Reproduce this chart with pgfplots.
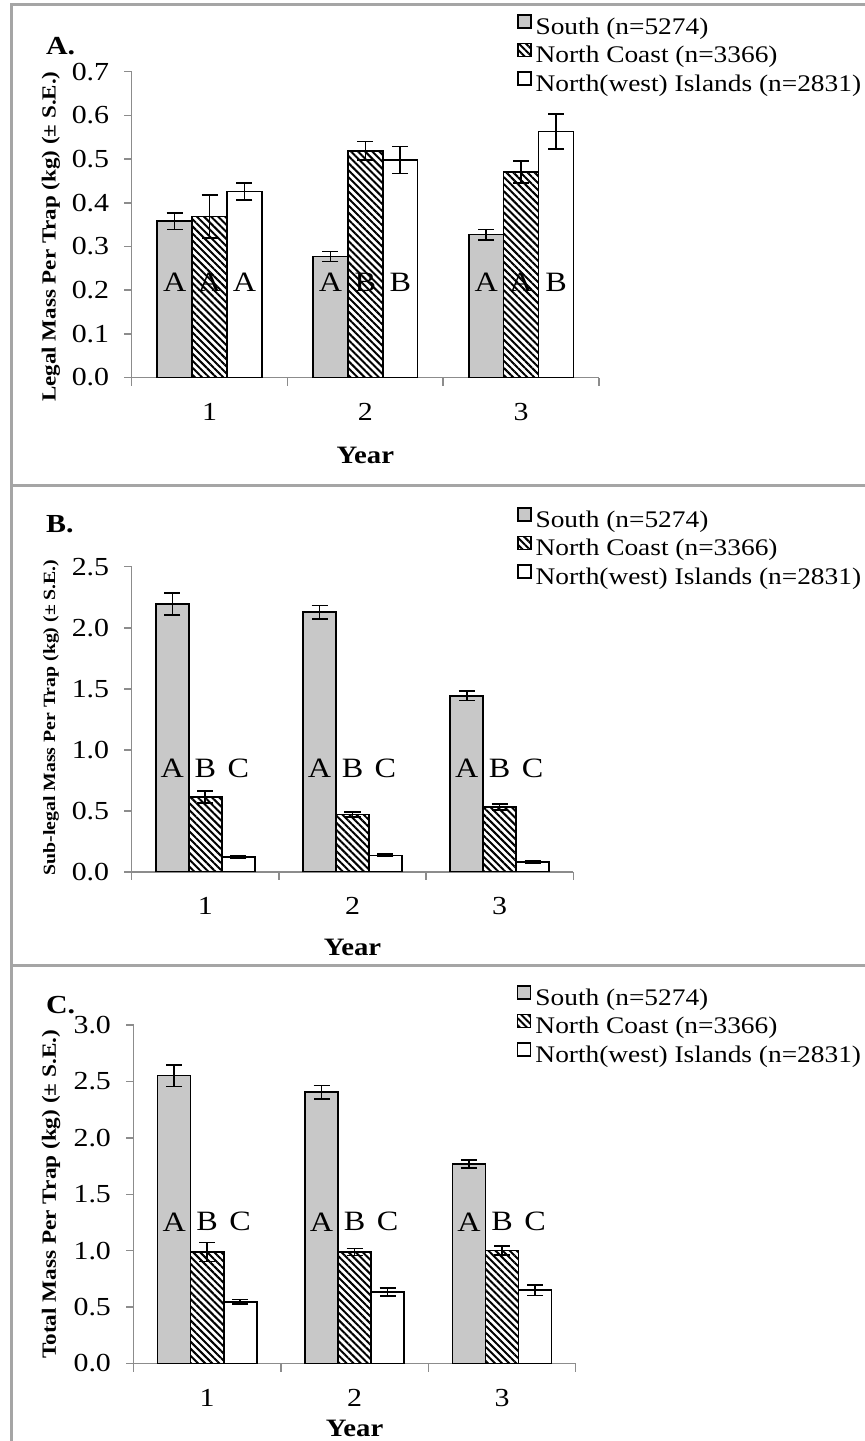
\documentclass[border=0pt]{standalone}
\usepackage{pgfplots}
\pgfplotsset{compat=1.18}
\usetikzlibrary{patterns.meta}
\usepackage{fontspec}
\setmainfont{Liberation Serif}[FakeStretch=1.15]

\definecolor{southfill}{RGB}{200,200,200}
\definecolor{axisgray}{RGB}{140,140,140}
\definecolor{framegray}{RGB}{165,165,165}

\pgfplotsset{
  panel/.style={
    scale only axis,
    axis lines=left,
    axis line style={-, draw=axisgray, line width=0.75pt},
    every tick/.style={draw=axisgray, line width=0.75pt},
    tick align=outside,
    major tick length=3.75pt,
    minor tick length=4pt,
    ybar, bar width=0.224,
    xmin=0.5, xmax=3.5, ymin=0,
    xtick={1,2,3}, minor xtick={0.5,1.5,2.5,3.5},
    major x tick style={draw=none},
    /pgf/number format/assume math mode=true,
    ticklabel style={font=\fontsize{13}{15}\selectfont},
    yticklabel style={xshift=-4pt,
      /pgf/number format/.cd, fixed, fixed zerofill, precision=1},
    xticklabel style={yshift=-5.5pt},
    xlabel=Year,
    xlabel style={anchor=center, font=\fontsize{12.5}{14}\selectfont\bfseries},
    ylabel style={anchor=center},
    legend style={draw=none, fill=none, anchor=north west, inner sep=0pt,
      column sep=2pt, row sep=0pt,
      nodes={inner sep=0pt, text height=9.25pt, text depth=4.25pt},
      font=\fontsize{11.9}{14}\selectfont},
    legend cell align=left,
    error bars/y dir=both, error bars/y explicit,
    error bars/error bar style={black, line width=0.8pt, solid},
    error bars/error mark options={black, rotate=90, mark size=4pt, line width=0.8pt},
  },
  sq legend/.style={legend image code/.code={
    \draw[##1, line width=0.6pt] (0pt,0.7pt) rectangle (6.5pt,7.2pt);}},
  south/.style={draw=black, fill=southfill, line width=0.8pt, bar shift=-0.224, sq legend},
  coast/.style={draw=black, line width=0.8pt, bar shift=0,
    pattern={Lines[angle=-45,distance=2.5pt,line width=1pt]}, pattern color=black, sq legend},
  isles/.style={draw=black, fill=white, line width=0.8pt, bar shift=0.224, sq legend},
}

\newcommand{\lt}{\fontsize{14}{16}\selectfont}

\begin{document}
\begin{tikzpicture}
\path[use as bounding box] (0,0) rectangle (432.5pt,-720.5pt);

% frame
\draw[framegray, line width=1.5pt] (432.5pt,-2pt) -- (5.85pt,-2pt) -- (5.85pt,-720.5pt);
\draw[framegray, line width=1.5pt] (5.85pt,-242.5pt) -- (432.5pt,-242.5pt);
\draw[framegray, line width=1.5pt] (5.85pt,-482.5pt) -- (432.5pt,-482.5pt);

\node[anchor=west, font=\fontsize{13}{15}\selectfont\bfseries] at (19.5pt,-23pt) {A.};
\node[anchor=west, font=\fontsize{13}{15}\selectfont\bfseries] at (19.5pt,-262pt) {B.};
\node[anchor=west, font=\fontsize{13}{15}\selectfont\bfseries] at (19.5pt,-502.5pt) {C.};

% ---------- A: legal mass
\begin{axis}[panel,
  at={(65.85pt,-188.75pt)}, anchor=south west,
  width=233.65pt, height=152.9pt,
  ymax=0.7, ytick={0,0.1,...,0.7},
  xlabel style={at={(axis description cs:0.5,-0.2534)}},
  ylabel={Legal Mass Per Trap (kg) (± S.E.)},
  ylabel style={at={(axis description cs:-0.1727,0.461)}, font=\fontsize{10}{12}\selectfont\bfseries},
  legend style={at={(axis description cs:0.8245,1.1887)}},
]
\addplot[south] coordinates {(1,0.358) +- (0,0.019) (2,0.277) +- (0,0.011) (3,0.327) +- (0,0.012)};
\addplot[coast] coordinates {(1,0.369) +- (0,0.049) (2,0.519) +- (0,0.021) (3,0.470) +- (0,0.025)};
\addplot[isles] coordinates {(1,0.426) +- (0,0.019) (2,0.498) +- (0,0.031) (3,0.563) +- (0,0.040)};
\legend{South (n=5274), North Coast (n=3366), North(west) Islands (n=2831)}
\node[font=\lt] at (axis cs:0.776,0.2175) {A};
\node[font=\lt] at (axis cs:1,0.2175) {A};
\node[font=\lt] at (axis cs:1.224,0.2175) {A};
\node[font=\lt] at (axis cs:1.776,0.2175) {A};
\node[font=\lt] at (axis cs:2,0.2175) {B};
\node[font=\lt] at (axis cs:2.224,0.2175) {B};
\node[font=\lt] at (axis cs:2.776,0.2175) {A};
\node[font=\lt] at (axis cs:3,0.2175) {A};
\node[font=\lt] at (axis cs:3.224,0.2175) {B};
\end{axis}

% ---------- B: sub-legal mass
\begin{axis}[panel,
  at={(65.85pt,-435.95pt)}, anchor=south west,
  width=220.8pt, height=152.6pt,
  ymax=2.5, ytick={0,0.5,...,2.5},
  xlabel style={at={(axis description cs:0.5,-0.246)}},
  ylabel={Sub-legal Mass Per Trap (kg) (± S.E.)},
  ylabel style={at={(axis description cs:-0.1827,0.506)}, font=\fontsize{8.6}{10}\selectfont\bfseries},
  legend style={at={(axis description cs:0.8725,1.1956)}},
]
\addplot[south] coordinates {(1,2.196) +- (0,0.09) (2,2.128) +- (0,0.055) (3,1.443) +- (0,0.04)};
\addplot[coast] coordinates {(1,0.614) +- (0,0.05) (2,0.469) +- (0,0.02) (3,0.532) +- (0,0.025)};
\addplot[isles] coordinates {(1,0.120) +- (0,0.008) (2,0.136) +- (0,0.01) (3,0.082) +- (0,0.007)};
\legend{South (n=5274), North Coast (n=3366), North(west) Islands (n=2831)}
\foreach \g in {1,2,3}{
  \edef\tmp{\noexpand\node[font=\noexpand\lt] at (axis cs:\g-0.224,0.85) {A};
    \noexpand\node[font=\noexpand\lt] at (axis cs:\g,0.85) {B};
    \noexpand\node[font=\noexpand\lt] at (axis cs:\g+0.224,0.85) {C};}
  \tmp
}
\end{axis}

% ---------- C: total mass
\begin{axis}[panel,
  at={(66.75pt,-681.75pt)}, anchor=south west,
  width=221.1pt, height=169.25pt,
  ymax=3.0, ytick={0,0.5,...,3.0},
  xlabel style={at={(axis description cs:0.5,-0.1905)}},
  ylabel={Total Mass Per Trap (kg) (± S.E.)},
  ylabel style={at={(axis description cs:-0.1866,0.5)}, font=\fontsize{10.1}{12}\selectfont\bfseries},
  legend style={at={(axis description cs:0.867,1.118)}},
]
\addplot[south] coordinates {(1,2.551) +- (0,0.097) (2,2.404) +- (0,0.06) (3,1.770) +- (0,0.036)};
\addplot[coast] coordinates {(1,0.988) +- (0,0.084) (2,0.988) +- (0,0.03) (3,1.003) +- (0,0.041)};
\addplot[isles] coordinates {(1,0.546) +- (0,0.02) (2,0.634) +- (0,0.035) (3,0.649) +- (0,0.045)};
\legend{South (n=5274), North Coast (n=3366), North(west) Islands (n=2831)}
\foreach \g in {1,2,3}{
  \edef\tmp{\noexpand\node[font=\noexpand\lt] at (axis cs:\g-0.224,1.256) {A};
    \noexpand\node[font=\noexpand\lt] at (axis cs:\g,1.256) {B};
    \noexpand\node[font=\noexpand\lt] at (axis cs:\g+0.224,1.256) {C};}
  \tmp
}
\end{axis}
\end{tikzpicture}
\end{document}
